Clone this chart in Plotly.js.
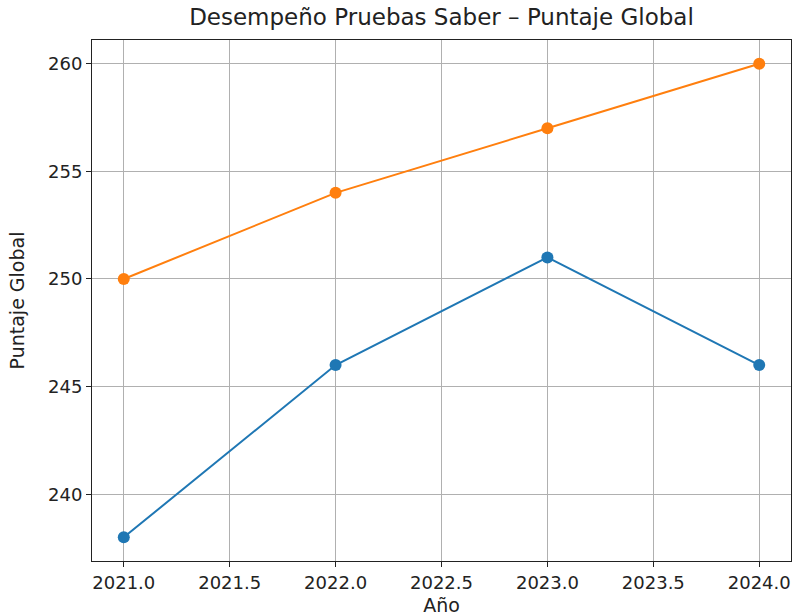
<!DOCTYPE html>
<html>
<head>
<meta charset="utf-8">
<script src="https://cdn.plot.ly/plotly-3.0.1.min.js"></script>
<style>html,body{margin:0;padding:0;background:#fff}#chart{width:794px;height:616px}</style>
</head>
<body>
<div id="chart"></div>
<script>
const years = [2021, 2022, 2023, 2024];
const serieAzul = [238, 246, 251, 246];
const serieNaranja = [250, 254, 257, 260];
const xTicks = [2021.0, 2021.5, 2022.0, 2022.5, 2023.0, 2023.5, 2024.0];
const xTickLabels = ["2021.0", "2021.5", "2022.0", "2022.5", "2023.0", "2023.5", "2024.0"];
const yTicks = [240, 245, 250, 255, 260];

const font = "DejaVu Sans, sans-serif";
const traces = [
  {x: years, y: serieAzul, mode: "lines+markers", line: {color: "#1f77b4", width: 2}, marker: {color: "#1f77b4", size: 12}},
  {x: years, y: serieNaranja, mode: "lines+markers", line: {color: "#ff7f0e", width: 2}, marker: {color: "#ff7f0e", size: 12}}
];
const layout = {
  width: 794, height: 616,
  margin: {l: 92, r: 3, t: 40, b: 55},
  showlegend: false,
  paper_bgcolor: "#fff", plot_bgcolor: "#fff",
  font: {family: font, color: "#222", size: 18},
  title: {text: "Desempeño Pruebas Saber – Puntaje Global", font: {family: font, size: 23, color: "#222"},
          x: 0.5, xref: "paper", xanchor: "center", y: 0.972, yref: "container", yanchor: "middle"},
  xaxis: {
    range: [2020.85, 2024.15], tickvals: xTicks, ticktext: xTickLabels,
    showgrid: true, gridcolor: "#b0b0b0", gridwidth: 1, zeroline: false,
    showline: true, linecolor: "#222", linewidth: 1, mirror: true,
    ticks: "outside", ticklen: 5, tickcolor: "#222",
    tickfont: {family: font, size: 18, color: "#222"},
    title: {text: "Año", font: {family: font, size: 19, color: "#222"}, standoff: 14}
  },
  yaxis: {
    range: [236.9, 261.1], tickvals: yTicks,
    showgrid: true, gridcolor: "#b0b0b0", gridwidth: 1, zeroline: false,
    showline: true, linecolor: "#222", linewidth: 1, mirror: true,
    ticks: "outside", ticklen: 5, tickcolor: "#222",
    tickfont: {family: font, size: 18, color: "#222"},
    title: {text: "Puntaje Global", font: {family: font, size: 19, color: "#222"}, standoff: 18}
  }
};
Plotly.newPlot("chart", traces, layout, {displayModeBar: false, staticPlot: true});
</script>
</body>
</html>
